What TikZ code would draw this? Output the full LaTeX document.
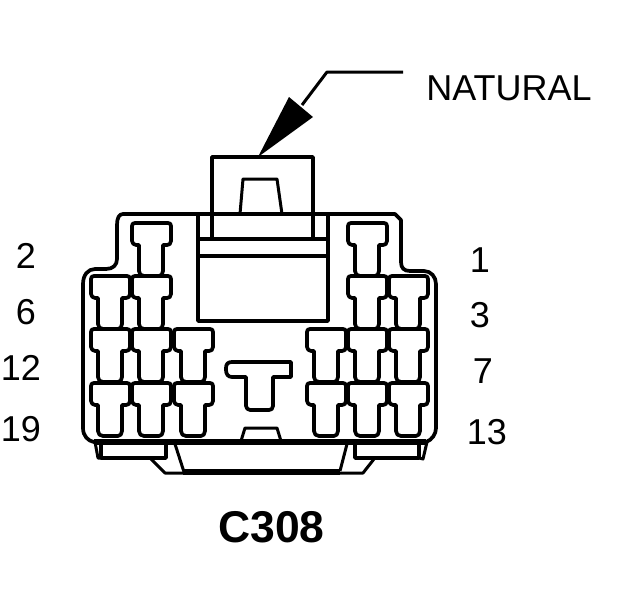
\documentclass[tikz,border=0pt]{standalone}
\usepackage{fontspec}
\setmainfont{Liberation Sans}
\tikzset{
  conn/.style={draw=black,line width=3.7pt,line join=round,fill=none},
  thin conn/.style={draw=black,line width=3pt,line join=round,fill=none},
  lab/.style={font=\fontsize{36}{36}\selectfont,text=black,inner sep=0pt,anchor=center},
  title/.style={font=\fontsize{44.5}{44.5}\selectfont\bfseries,text=black,inner sep=0pt,anchor=center}
}
\newcommand{\pinT}[2]{%
  \draw[conn] (#1+3,#2) -- (#1+36,#2)
   .. controls (#1+38,#2) and (#1+39,#2+1) .. (#1+39,#2+3) -- (#1+39,#2+18)
   .. controls (#1+39,#2+21) and (#1+37,#2+22) .. (#1+35,#2+22) -- (#1+31,#2+22)
   -- (#1+31,#2+48) .. controls (#1+31,#2+51) and (#1+29,#2+53) .. (#1+27,#2+53)
   -- (#1+12,#2+53) .. controls (#1+9,#2+53) and (#1+7,#2+51) .. (#1+7,#2+48)
   -- (#1+7,#2+22) -- (#1+4,#2+22)
   .. controls (#1+2,#2+22) and (#1,#2+20) .. (#1,#2+18) -- (#1,#2+3)
   .. controls (#1,#2+1) and (#1+1,#2) .. (#1+3,#2) -- cycle;}
\begin{document}
\begin{tikzpicture}[x=1pt,y=-1pt]
\useasboundingbox (0,0) rectangle (624,600);
% outer shell
\draw[conn] (123,214) -- (395,214) -- (401,220) -- (401,262)
  .. controls (401,268) and (404,271) .. (410,271) -- (424,271)
  .. controls (431,271) and (436,277) .. (436,284) -- (436,428)
  .. controls (436,434) and (432,440) .. (426,442) -- (94,442)
  .. controls (88,441) and (83,436) .. (83,428) -- (83,284)
  .. controls (83,275) and (88,269) .. (95,269) -- (106,269)
  .. controls (113,269) and (117,265) .. (117,259) -- (117,225)
  .. controls (117,218) and (119,214) .. (123,214) -- cycle;
\draw[line width=5.5pt] (94,442) -- (426,442);
% centre housing
\draw[conn] (198,214) -- (198,321) -- (328,321) -- (328,214);
\draw[conn] (198,239) -- (328,239);
\draw[conn] (198,256) -- (328,256);
\draw[conn] (212,239) -- (212,157) -- (313,157) -- (313,239);
\draw[thin conn] (240,214) -- (243,179) -- (277,179) -- (282,214);
% pins
\pinT{132}{223}
\pinT{91}{276}\pinT{132}{276}
\pinT{91}{329}\pinT{132}{329}\pinT{174}{329}
\pinT{91}{383}\pinT{132}{383}\pinT{174}{383}
\pinT{348}{223}
\pinT{348}{276}\pinT{389}{276}
\pinT{307}{329}\pinT{348}{329}\pinT{389}{329}
\pinT{307}{383}\pinT{348}{383}\pinT{389}{383}
% centre key
\draw[conn] (232,362) -- (291,362) -- (291,377) -- (273,377) -- (273,406)
  .. controls (273,409) and (271,410) .. (269,410) -- (250,410)
  .. controls (248,410) and (246,408) .. (246,406) -- (246,377) -- (232,377)
  .. controls (228,377) and (226,374) .. (226,370) -- (226,368)
  .. controls (226,364) and (228,362) .. (232,362) -- cycle;
\draw[thin conn] (241,441) -- (245,428) -- (277,428) -- (281,441);
% lower skirt
\draw[thin conn] (95,442) -- (98,458) -- (150,458) -- (165,473) -- (183,473);
\draw[conn] (101,442) -- (101,458) -- (150,458);
\draw[conn] (166,442) -- (166,458) -- (150,458);
\draw[thin conn] (175,444) -- (184,472);
\draw[line width=5.5pt] (183,472) -- (340,472);
\draw[thin conn] (340,473) -- (363,473) -- (374,459);
\draw[thin conn] (347,444) -- (340,471);
\draw[conn] (355,442) -- (355,458) -- (419,458) -- (419,442);
\draw[thin conn] (419,458) -- (423,459) -- (427,442);
% leader
\coordinate (lead) at (403,72);
\coordinate (knee) at (327,72);
\coordinate (tip) at (258,157);
\draw[thin conn] (lead) -- (knee) -- (302,105);
\fill[black] (tip) -- (289,97) -- (313,117) -- cycle;
% labels
\node[lab] (nat) at (509,88) {NATURAL};
\node[title] (name) at (271.5,527) {C308};
\node[lab] (n2) at (26,256) {2};
\node[lab] (n6) at (26,312) {6};
\node[lab] (n12) at (21,368) {12};
\node[lab] (n19) at (21,429) {19};
\node[lab] (n1) at (480,260) {1};
\node[lab] (n3) at (480,315) {3};
\node[lab] (n7) at (483,371) {7};
\node[lab] (n13) at (487,432) {13};
\end{tikzpicture}
\end{document}
